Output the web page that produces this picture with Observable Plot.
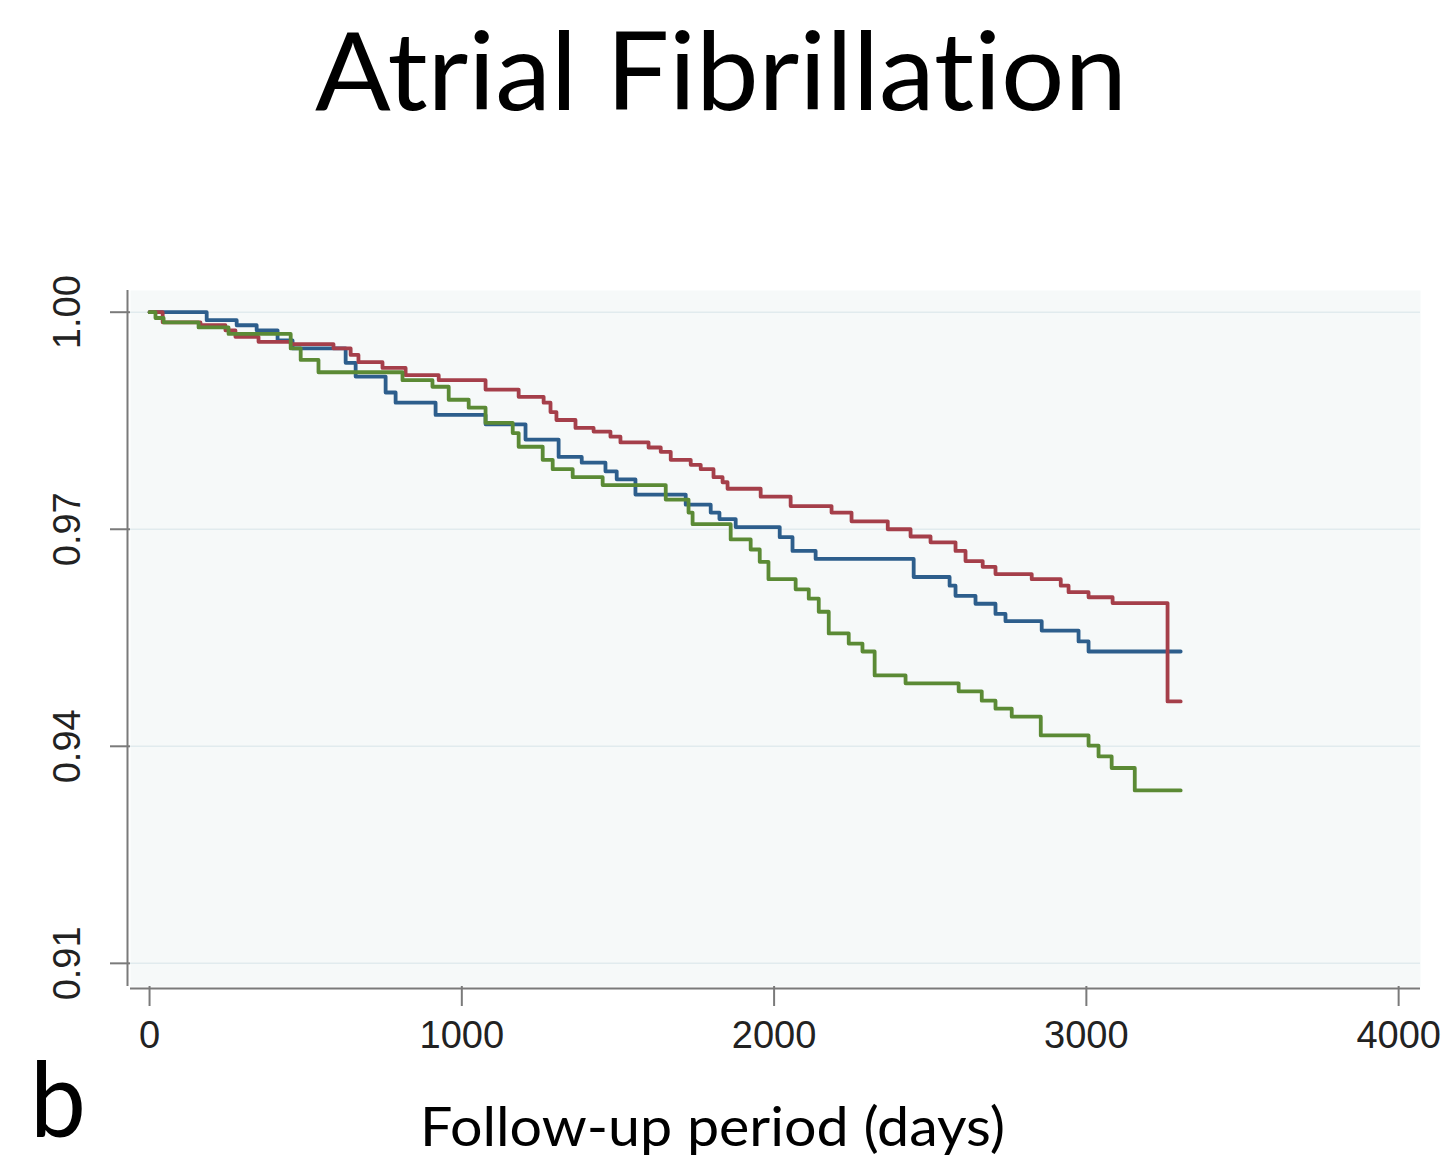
<!DOCTYPE html>
<html><head><meta charset="utf-8">
<script src="https://cdn.jsdelivr.net/npm/d3@7"></script>
<script src="https://cdn.jsdelivr.net/npm/@observablehq/plot@0.6"></script>
<style>
html,body{margin:0;padding:0;background:#fff;}
#page{position:relative;width:1448px;height:1161px;background:#fff;}
.t{position:absolute;white-space:nowrap;font-family:Lato,"Open Sans",sans-serif;color:#000;transform-origin:0 0;line-height:1.2;font-variant-ligatures:none;font-feature-settings:"liga" 0,"clig" 0;}
#chart{position:absolute;left:0;top:200px;}
</style></head><body>
<div id="page">
<div id="title" class="t">Atrial Fibrillation</div>
<div id="chart"></div>
<div id="panel" class="t">b</div>
<div id="xlabel" class="t">Follow-up period (days)</div>
</div>
<script>
// ---- data ----
const seriesNames = ["Blue group", "Red group", "Green group"];

const blueDays = [0,183,279,343,410,458,628,660,756,788,916,1076,1204,1310,1384,1460,1496,1556,1717,1797,1825,1877,2018,2059,2133,2447,2562,2581,2645,2709,2741,2857,2975,3007,3302];
const blueSurv = [1.0,0.9989,0.9982,0.9975,0.9961,0.9950,0.9930,0.9911,0.9889,0.9875,0.9858,0.9845,0.9824,0.9800,0.9792,0.9780,0.9769,0.9748,0.9734,0.9723,0.9714,0.9703,0.9689,0.9670,0.9659,0.9634,0.9622,0.9608,0.9597,0.9583,0.9573,0.9560,0.9545,0.9531,0.9531];

const redDays = [0,42,163,243,275,349,452,589,644,669,746,820,926,1076,1182,1262,1284,1303,1364,1422,1476,1508,1598,1637,1669,1733,1765,1806,1835,1851,1957,2053,2184,2248,2364,2437,2501,2581,2613,2668,2709,2825,2918,2943,3007,3084,3260,3302];
const redSurv = [1.0,0.9986,0.9982,0.9975,0.9966,0.9959,0.9956,0.9950,0.9941,0.9931,0.9923,0.9913,0.9906,0.9893,0.9883,0.9875,0.9862,0.9851,0.9840,0.9835,0.9828,0.9820,0.9813,0.9807,0.9796,0.9789,0.9783,0.9772,0.9765,0.9756,0.9745,0.9732,0.9723,0.9711,0.9700,0.9690,0.9682,0.9670,0.9656,0.9648,0.9638,0.9631,0.9622,0.9613,0.9606,0.9598,0.9462,0.9462];

const greenDays = [0,19,45,157,253,452,484,541,810,906,958,1022,1076,1163,1182,1259,1291,1355,1451,1653,1726,1739,1861,1925,1954,1982,2069,2111,2143,2175,2239,2283,2322,2421,2591,2665,2709,2761,2854,3007,3039,3081,3155,3302];
const greenSurv = [1.0,0.9992,0.9986,0.9979,0.9970,0.9950,0.9934,0.9917,0.9906,0.9897,0.9879,0.9868,0.9847,0.9833,0.9814,0.9796,0.9783,0.9772,0.9761,0.9741,0.9723,0.9707,0.9686,0.9672,0.9655,0.9631,0.9617,0.9604,0.9586,0.9556,0.9542,0.9531,0.9498,0.9487,0.9476,0.9463,0.9452,0.9441,0.9415,0.9401,0.9386,0.9370,0.9339,0.9339];

const xTicks = [0, 1000, 2000, 3000, 4000];
const yTicks = [0.91, 0.94, 0.97, 1.00];
const yTickLabels = ["0.91", "0.94", "0.97", "1.00"];

// ---- build table ----
const rows = [];
[[blueDays, blueSurv], [redDays, redSurv], [greenDays, greenSurv]].forEach(([ds, ss], k) => {
  ds.forEach((d, i) => rows.push({group: seriesNames[k], day: d, surv: ss[i]}));
});

const xDomain = [-61, 4070];
const yDomain = [0.9068, 1.0030];
const axisColor = "#7a7a7a";

const chart = Plot.plot({
  width: 1448,
  height: 870,
  marginLeft: 130,
  marginRight: 28,
  marginTop: 90,
  marginBottom: 84,
  x: {domain: xDomain},
  y: {domain: yDomain},
  color: {domain: seriesNames, range: ["#2d5e8c", "#a53f4a", "#5b8a35"]},
  style: {fontFamily: "'Liberation Sans', Arial, sans-serif", fontSize: "38px", background: "transparent", color: "#222"},
  marks: [
    Plot.frame({fill: "#f6f9f9", stroke: null}),
    Plot.gridY(yTicks, {stroke: "#e1ebee", strokeOpacity: 1, strokeWidth: 1.5}),
    Plot.axisY(yTicks, {tickSize: 20, tickFormat: () => "", stroke: axisColor, strokeWidth: 2, label: null}),
    Plot.axisX(xTicks, {tickSize: 20, tickPadding: 15, tickFormat: d => String(d), stroke: axisColor, strokeWidth: 2, label: null, fill: "#222"}),
    Plot.text(yTicks, {y: d => d, text: (d, i) => yTickLabels[i], frameAnchor: "left", dx: -63, rotate: -90, textAnchor: "middle", lineAnchor: "middle", fontSize: 38, fill: "#222"}),
    Plot.ruleX([xDomain[0]], {dx: -3, stroke: axisColor, strokeWidth: 2}),
    Plot.ruleY([yDomain[0]], {dy: 2, stroke: axisColor, strokeWidth: 2}),
    Plot.line(rows, {x: "day", y: "surv", z: "group", stroke: "group", curve: "step-after", strokeWidth: 3.8})
  ]
});
document.getElementById("chart").appendChild(chart);

// ---- text placement helper: left edge, baseline, target width; keep inside the page ----
function place(id, left, baseline, width, size) {
  const el = document.getElementById(id);
  const textNode = el.firstChild;
  el.style.fontSize = size + "px";
  el.style.left = left + "px";
  el.style.top = "0px";
  const marker = document.createElement("span");
  marker.style.cssText = "display:inline-block;width:0;height:0;vertical-align:baseline";
  el.appendChild(marker);
  const r = el.getBoundingClientRect();
  const b = marker.getBoundingClientRect().top - r.top;
  let top = baseline - b;
  el.style.top = top + "px";
  el.style.transform = `scaleX(${width / r.width})`;
  // keep the text's content box inside the page
  const range = document.createRange();
  range.selectNodeContents(textNode);
  const pr = document.getElementById("page").getBoundingClientRect();
  const tr = range.getBoundingClientRect();
  const er = el.getBoundingClientRect();
  const lo = Math.min(tr.top, er.top) - pr.top, hi = Math.max(tr.bottom, er.bottom) - pr.top;
  if (hi > 1160) top -= (hi - 1160);
  else if (lo < 1) top += (1 - lo);
  el.style.top = top + "px";
}
place("title", 315, 110, 812, 109);
place("xlabel", 420, 1146, 585, 54);
place("panel", 30, 1155, 56, 104);
</script>
</body></html>
